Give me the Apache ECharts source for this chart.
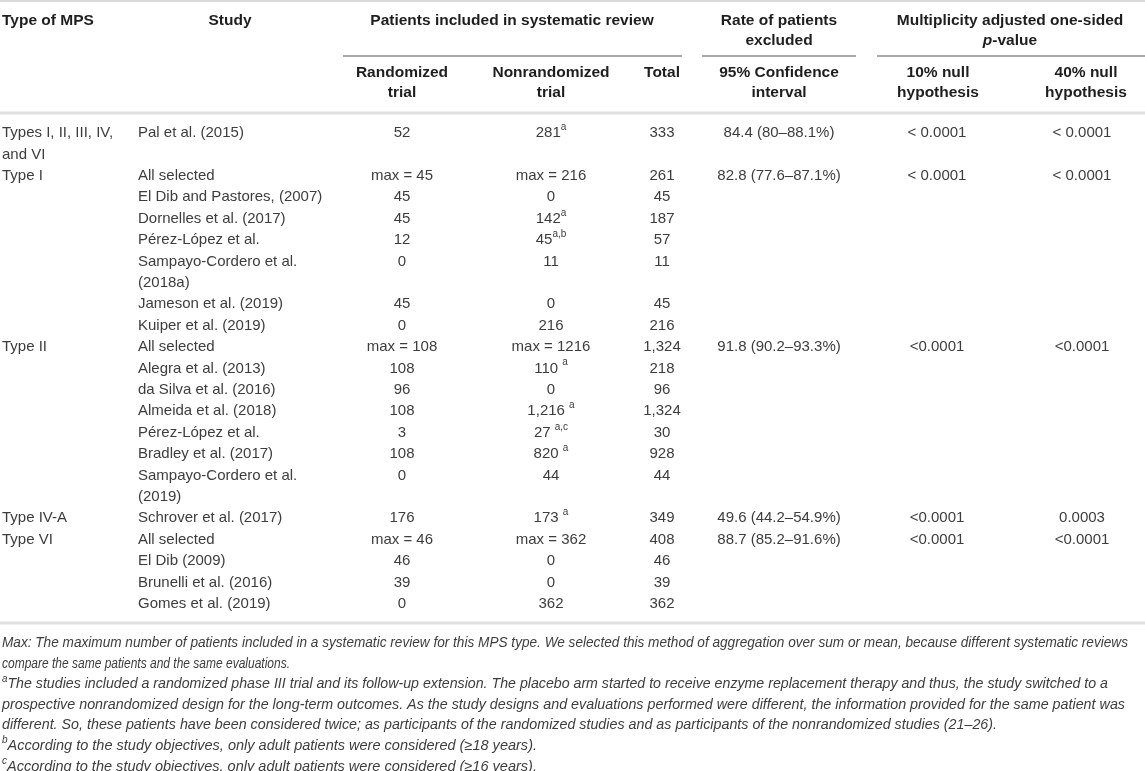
<!DOCTYPE html>
<html><head><meta charset="utf-8">
<script src="https://cdn.jsdelivr.net/npm/echarts@6/dist/echarts.min.js"></script>
<style>html,body{margin:0;padding:0;background:#fff}#c{width:1145px;height:771px}</style>
</head><body><div id="c"></div>
<script>
// ---------------- DATA ----------------
const headerTop = ['Type of MPS', 'Study', 'Patients included in systematic review', 'Rate of patients\nexcluded', 'Multiplicity adjusted one-sided\n|p|-value'];
const headerSub = ['Randomized\ntrial', 'Nonrandomized\ntrial', 'Total', '95% Confidence\ninterval', '10% null\nhypothesis', '40% null\nhypothesis'];

const mpsTypes = ['Types I, II, III, IV,\nand VI', 'Type I', '', '', '', '', '', '', 'Type II', '', '', '', '', '', '', 'Type IV-A', 'Type VI', '', '', ''];
const studies = ['Pal et al. (2015)', 'All selected', 'El Dib and Pastores, (2007)', 'Dornelles et al. (2017)', 'Pérez-López et al.', 'Sampayo-Cordero et al.\n(2018a)', 'Jameson et al. (2019)', 'Kuiper et al. (2019)', 'All selected', 'Alegra et al. (2013)', 'da Silva et al. (2016)', 'Almeida et al. (2018)', 'Pérez-López et al.', 'Bradley et al. (2017)', 'Sampayo-Cordero et al.\n(2019)', 'Schrover et al. (2017)', 'All selected', 'El Dib (2009)', 'Brunelli et al. (2016)', 'Gomes et al. (2019)'];
const randomized = ['52', 'max = 45', '45', '45', '12', '0', '45', '0', 'max = 108', '108', '96', '108', '3', '108', '0', '176', 'max = 46', '46', '39', '0'];
const nonrandomized = ['281', 'max = 216', '0', '142', '45', '11', '0', '216', 'max = 1216', '110', '0', '1,216', '27', '820', '44', '173', 'max = 362', '0', '0', '362'];
const nonrandNotes = ['a', '', '', 'a', 'a,b', '', '', '', '', ' a', '', ' a', ' a,c', ' a', '', ' a', '', '', '', ''];
const totals = ['333', '261', '45', '187', '57', '11', '45', '216', '1,324', '218', '96', '1,324', '30', '928', '44', '349', '408', '46', '39', '362'];
const ciExcluded = ['84.4 (80–88.1%)', '82.8 (77.6–87.1%)', '', '', '', '', '', '', '91.8 (90.2–93.3%)', '', '', '', '', '', '', '49.6 (44.2–54.9%)', '88.7 (85.2–91.6%)', '', '', ''];
const pNull10 = ['< 0.0001', '< 0.0001', '', '', '', '', '', '', '<0.0001', '', '', '', '', '', '', '<0.0001', '<0.0001', '', '', ''];
const pNull40 = ['< 0.0001', '< 0.0001', '', '', '', '', '', '', '<0.0001', '', '', '', '', '', '', '0.0003', '<0.0001', '', '', ''];

const footMarks = ['', '', 'a', '', '', 'b', 'c'];
const footnotes = [
  'Max: The maximum number of patients included in a systematic review for this MPS type. We selected this method of aggregation over sum or mean, because different systematic reviews',
  'compare the same patients and the same evaluations.',
  'The studies included a randomized phase III trial and its follow-up extension. The placebo arm started to receive enzyme replacement therapy and thus, the study switched to a',
  'prospective nonrandomized design for the long-term outcomes. As the study designs and evaluations performed were different, the information provided for the same patient was',
  'different. So, these patients have been considered twice; as participants of the randomized studies and as participants of the nonrandomized studies (21–26).',
  'According to the study objectives, only adult patients were considered (≥18 years).',
  'According to the study objectives, only adult patients were considered (≥16 years).'
];

// ---------------- LAYOUT ----------------
const W = 1145, H = 771;
const FONT = "'Liberation Sans', Arial, Helvetica, sans-serif";
const BODY_FS = 15, HEAD_FS = 15.5, FOOT_FS = 14.5, SUP_FS = 10;
const BODY_COLOR = '#3d3d3d', HEAD_COLOR = '#1e1e1e';
const headTopX = [2, 230, 512, 779, 1010];
const headTopAlign = ['left', 'center', 'center', 'center', 'center'];
const headSubX = [402, 551, 662, 779, 938, 1086];
const HEAD_TOP_Y = 20.5, HEAD_SUB_Y = 73, HEAD_LH = 20;
const COLX = { type: 2, study: 138, rand: 402, nonrand: 551, total: 662, ci: 779, p10: 937, p40: 1082 };
const BODY_TOP = 133, PITCH = 21.4;
const FOOT_TOP = 643, FOOT_PITCH = 20.6, FOOT_X = 2;
const footRight = [1128, 290, 1108, 1125, 997, 537, 537];
const rules = [
  { x1: 0, x2: W, y: 1, color: '#d9d9d9', w: 2 },
  { x1: 343, x2: 682, y: 56, color: '#8d8d8d', w: 1.5 },
  { x1: 702, x2: 856, y: 56, color: '#8d8d8d', w: 1.5 },
  { x1: 877, x2: W, y: 56, color: '#8d8d8d', w: 1.5 },
  { x1: 0, x2: W, y: 113, color: '#e0e0e0', w: 3 },
  { x1: 0, x2: W, y: 623, color: '#e0e0e0', w: 3 }
];

const RICH = {
  n: { fontSize: BODY_FS, fontFamily: FONT, fill: BODY_COLOR, lineHeight: PITCH },
  s: { fontSize: SUP_FS, fontFamily: FONT, fill: BODY_COLOR, lineHeight: 12, verticalAlign: 'top' },
  hb: { fontSize: HEAD_FS, fontFamily: FONT, fontWeight: 'bold', fill: HEAD_COLOR, lineHeight: HEAD_LH },
  hi: { fontSize: HEAD_FS, fontFamily: FONT, fontWeight: 'bold', fontStyle: 'italic', fill: HEAD_COLOR, lineHeight: HEAD_LH },
  f: { fontSize: FOOT_FS, fontFamily: FONT, fontStyle: 'italic', fill: BODY_COLOR, lineHeight: FOOT_PITCH },
  fs: { fontSize: SUP_FS, fontFamily: FONT, fontStyle: 'italic', fill: BODY_COLOR, lineHeight: 12, verticalAlign: 'top' }
};

// measure helper for footnote fitting
const mctx = document.createElement('canvas').getContext('2d');
function measure(text, size, style) {
  mctx.font = (style || '') + ' ' + size + 'px ' + FONT;
  return mctx.measureText(text).width;
}

const cells = [];
function addCell(x, yTop, text, align, opts) {
  cells.push(Object.assign({ x: x, y: yTop, text: text, align: align }, opts || {}));
}

// header top row
headerTop.forEach(function (t, i) {
  let rich = t.split('\n').map(function (line) {
    return line.split('|').map(function (seg, k) {
      if (!seg) return '';
      return (k % 2 === 1) ? '{hi|' + seg + '}' : '{hb|' + seg + '}';
    }).join('');
  }).join('\n');
  addCell(headTopX[i], HEAD_TOP_Y - HEAD_LH / 2, rich, headTopAlign[i], { rich: true });
});
headerSub.forEach(function (t, i) {
  let rich = t.split('\n').map(function (line) { return '{hb|' + line + '}'; }).join('\n');
  addCell(headSubX[i], HEAD_SUB_Y - HEAD_LH / 2, rich, 'center', { rich: true });
});

// body
let line = 0;
studies.forEach(function (st, i) {
  const yc = BODY_TOP + line * PITCH;
  const top = yc - PITCH / 2;
  const plain = function (s) { return s.split('\n').map(function (l) { return '{n|' + l + '}'; }).join('\n'); };
  if (mpsTypes[i]) addCell(COLX.type, top, plain(mpsTypes[i]), 'left', { rich: true });
  addCell(COLX.study, top, plain(st), 'left', { rich: true });
  addCell(COLX.rand, top, plain(randomized[i]), 'center', { rich: true });
  let nr = '{n|' + nonrandomized[i] + '}';
  const note = nonrandNotes[i];
  if (note) {
    if (note.charAt(0) === ' ') nr = '{n|' + nonrandomized[i] + ' }';
    nr += '{s|' + note.trim() + '}';
  }
  addCell(COLX.nonrand, top, nr, 'center', { rich: true });
  addCell(COLX.total, top, plain(totals[i]), 'center', { rich: true });
  if (ciExcluded[i]) addCell(COLX.ci, top, plain(ciExcluded[i]), 'center', { rich: true });
  if (pNull10[i]) addCell(COLX.p10, top, plain(pNull10[i]), 'center', { rich: true });
  if (pNull40[i]) addCell(COLX.p40, top, plain(pNull40[i]), 'center', { rich: true });
  const n = Math.max(mpsTypes[i].split('\n').length, st.split('\n').length);
  line += n;
});

// footnotes
footnotes.forEach(function (t, j) {
  const yc = FOOT_TOP + j * FOOT_PITCH;
  const mark = footMarks[j];
  const wNat = measure(t, FOOT_FS, 'italic') + (mark ? measure(mark, SUP_FS, 'italic') : 0);
  const sx = (footRight[j] - FOOT_X) / wNat;
  const txt = (mark ? '{fs|' + mark + '}' : '') + '{f|' + t + '}';
  addCell(FOOT_X, yc - FOOT_PITCH / 2, txt, 'left', { rich: true, sx: sx });
});

// ---------------- CHART ----------------
const chart = echarts.init(document.getElementById('c'), null, { renderer: 'canvas' });
chart.setOption({
  animation: false,
  backgroundColor: '#ffffff',
  grid: { left: 0, right: 0, top: 0, bottom: 0 },
  xAxis: { type: 'value', min: 0, max: W, show: false },
  yAxis: { type: 'value', min: 0, max: H, inverse: true, show: false },
  series: [
    {
      type: 'custom',
      silent: true,
      data: rules.map(function (r) { return [r.x1, r.y, r.x2]; }),
      renderItem: function (params, api) {
        const r = rules[params.dataIndex];
        const a = api.coord([api.value(0), api.value(1)]);
        const b = api.coord([api.value(2), api.value(1)]);
        return { type: 'line', shape: { x1: a[0], y1: a[1], x2: b[0], y2: b[1] }, style: { stroke: r.color, lineWidth: r.w } };
      }
    },
    {
      type: 'custom',
      silent: true,
      data: cells.map(function (c) { return [c.x, c.y]; }),
      renderItem: function (params, api) {
        const c = cells[params.dataIndex];
        const p = api.coord([api.value(0), api.value(1)]);
        return {
          type: 'text', x: p[0], y: p[1], scaleX: c.sx || 1, originX: 0, originY: 0,
          style: { text: c.text, align: c.align, verticalAlign: 'top', rich: RICH, fontFamily: FONT, fontSize: BODY_FS, fill: BODY_COLOR }
        };
      }
    }
  ]
});
</script>
</body></html>
